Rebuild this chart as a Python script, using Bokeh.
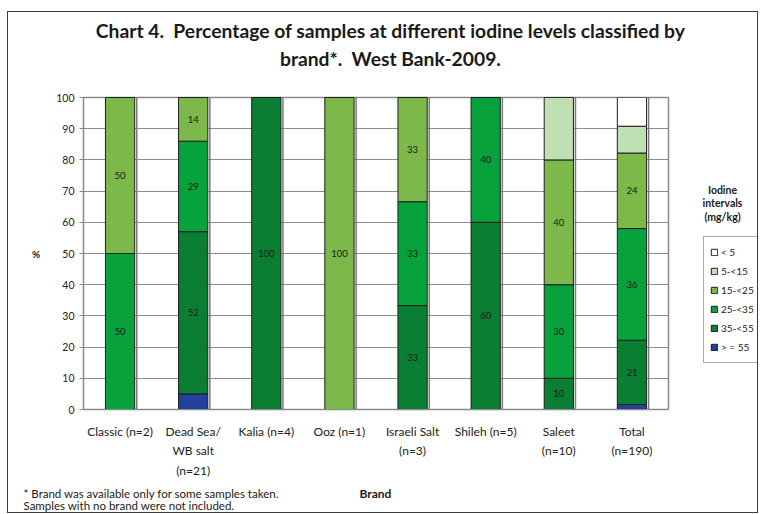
from bokeh.plotting import figure
from bokeh.layouts import column, row
from bokeh.models import (ColumnDataSource, Legend, LegendItem, Label,
                          SingleIntervalTicker, FactorRange)
from bokeh.transform import dodge
from bokeh.core.properties import value
from bokeh.embed import file_html
from bokeh.resources import INLINE

# ---------------- data ----------------
brands = ["Classic (n=2)", "Dead Sea/\nWB salt\n(n=21)", "Kalia (n=4)", "Ooz (n=1)",
          "Israeli Salt\n(n=3)", "Shileh (n=5)", "Saleet\n(n=10)", "Total\n(n=190)"]
# stacked bottom -> top
ge55   = [0, 5, 0, 0, 0, 0, 0, 1.6]
i35_55 = [0, 52, 100, 0, 33.3, 60, 10, 20.6]
i25_35 = [50, 29, 0, 0, 33.3, 40, 30, 35.8]
i15_25 = [50, 14, 0, 100, 33.4, 0, 40, 24.2]
i5_15  = [0, 0, 0, 0, 0, 0, 20, 8.6]
lt5    = [0, 0, 0, 0, 0, 0, 0, 9.2]
series_keys = ["ge55", "i35_55", "i25_35", "i15_25", "i5_15", "lt5"]
series_names = ["> = 55", "35-<55", "25-<35", "15-<25", "5-<15", "< 5"]
labelled = ["i35_55", "i25_35", "i15_25"]
colors = ["#22409c", "#0a7e33", "#07a23c", "#7cb84a", "#c0e0b4", "#ffffff"]
y_ticks_interval = 10

title_lines = ["Chart 4.\u00a0 Percentage of samples at different iodine levels classified by",
               "brand*.\u00a0 West Bank-2009."]
legend_title = ["Iodine", "intervals", "(mg/kg)"]
footnotes = ["* Brand was available only for some samples taken.",
             "Samples with no brand were not included."]
x_title = "Brand"
y_title = "%"

FONT = "Lato"
INK = "#1a1a1a"


def blank_fig(w, h):
    f = figure(width=w, height=h, x_range=(0, 1), y_range=(0, 1),
               x_axis_type=None, y_axis_type=None, output_backend="svg",
               toolbar_location=None, min_border=0)
    f.outline_line_color = None
    f.grid.grid_line_color = None
    return f


def lab(f, x, y, t, size, bold=False, align="center"):
    f.add_layout(Label(x=x, y=y, x_units="screen", y_units="screen", text=t,
                       text_font=FONT, text_font_size=size,
                       text_font_style="bold" if bold else "normal",
                       text_align=align, text_baseline="middle", text_color=INK))


# ---------------- title strip ----------------
top = blank_fig(749, 66)
lab(top, 382, 48, title_lines[0], "19.3px", True)
lab(top, 382, 20, title_lines[1], "19.3px", True)

# ---------------- main chart ----------------
data = dict(brand=brands, ge55=ge55, i35_55=i35_55, i25_35=i25_35,
            i15_25=i15_25, i5_15=i5_15, lt5=lt5)
source = ColumnDataSource(data)

p = figure(x_range=FactorRange(*brands), y_range=(0, 100),
           width=680, height=402, output_backend="svg", toolbar_location=None,
           min_border_left=75, min_border_right=20, min_border_top=19,
           min_border_bottom=70)
p.outline_line_color = "#8a8a8a"
p.outline_line_width = 1.5

# shadow lines next to each bar
p.segment(x0=dodge("brand", 0.228, range=p.x_range), y0=0,
          x1=dodge("brand", 0.228, range=p.x_range), y1=100,
          source=source, line_color="#7a7a7a", line_width=1.5)

rs = p.vbar_stack(series_keys, x="brand", width=0.4, color=colors,
                  line_color="#1e1e1e", line_width=1, source=source)

# value labels
lx, ly, lt = [], [], []
for i, b in enumerate(brands):
    base = 0.0
    for k in series_keys:
        v = data[k][i]
        if k in labelled and v > 0:
            lx.append(b)
            ly.append(base + v / 2)
            lt.append(str(int(round(v))))
        base += v
p.text(x=lx, y=ly, text=lt, text_align="center", text_baseline="middle",
       text_font=value(FONT), text_font_size="9.5px", text_color=INK)

p.xgrid.grid_line_color = None
p.ygrid.grid_line_color = "#8c8c8c"
p.ygrid.grid_line_width = 1
p.yaxis.ticker = SingleIntervalTicker(interval=y_ticks_interval)
p.yaxis.axis_line_color = "#8a8a8a"
p.yaxis.major_tick_line_color = "#8a8a8a"
p.yaxis.major_tick_out = 4
p.yaxis.major_tick_in = 0
p.yaxis.minor_tick_line_color = None
p.yaxis.major_label_text_font = FONT
p.yaxis.major_label_text_font_size = "10.5px"
p.yaxis.major_label_text_color = "#222222"
p.yaxis.major_label_standoff = 5
p.yaxis.axis_label = y_title
p.yaxis.axis_label_orientation = "horizontal"
p.yaxis.axis_label_text_font = FONT
p.yaxis.axis_label_text_font_size = "10px"
p.yaxis.axis_label_text_font_style = "bold"
p.yaxis.axis_label_text_color = INK
p.yaxis.axis_label_standoff = 13

p.xaxis.axis_line_color = "#8a8a8a"
p.xaxis.major_tick_line_color = None
p.xaxis.major_tick_out = 0
p.xaxis.major_tick_in = 0
p.xaxis.major_label_text_font = FONT
p.xaxis.major_label_text_font_size = "12px"
p.xaxis.major_label_text_color = "#222222"
p.xaxis.major_label_text_line_height = 1.3
p.xaxis.major_label_standoff = 14

# ---------------- legend column (frame aligned with main frame) ----------------
leg = blank_fig(69, 402)
lab(leg, 34, 220, legend_title[0], "10.5px", True)
lab(leg, 34, 207, legend_title[1], "10.5px", True)
lab(leg, 34, 193, legend_title[2], "10.5px", True)
proxy = ColumnDataSource(dict(x=[0.5], top=[0.0]))
leg_rs = [leg.vbar(x="x", top="top", width=0.1, source=proxy, fill_color=c,
                   line_color="#1e1e1e", line_width=1, visible=False) for c in colors]
items = [LegendItem(label=series_names[i], renderers=[leg_rs[i]]) for i in range(5, -1, -1)]
legend = Legend(items=items, location=(15, 46), glyph_width=8, glyph_height=8,
                label_text_font=FONT, label_text_font_size="10px",
                label_text_color="#222222", label_height=18, spacing=1,
                padding=6, margin=0, label_standoff=3,
                inactive_fill_alpha=0,
                border_line_color="#555555", border_line_width=1.5,
                background_fill_alpha=1)
leg.add_layout(legend, "center")

# ---------------- footnote strip ----------------
bot = blank_fig(749, 32)
lab(bot, 15, 19, footnotes[0], "11.5px", False, "left")
lab(bot, 15, 7, footnotes[1], "11.5px", False, "left")
lab(bot, 367, 19, x_title, "12px", True)

layout = column(top, row(p, leg, spacing=0), bot, spacing=0)
layout.styles = {"border": "1px solid #3a3a3a", "margin-left": "7px", "margin-top": "11px"}

open("out.html", "w").write(file_html(layout, INLINE))
